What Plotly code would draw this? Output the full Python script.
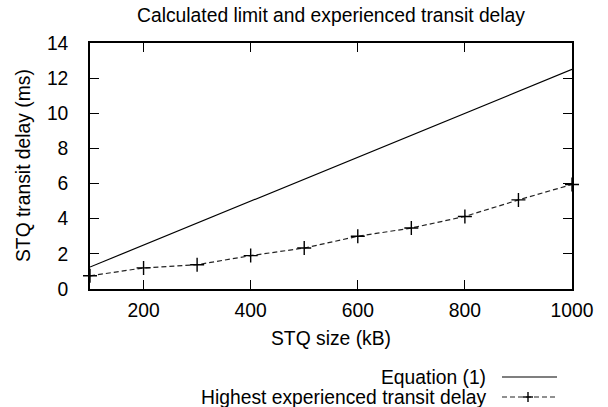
import plotly.graph_objects as go

# Data
stq_size_eq = [100, 1000]
eq_delay = [1.25, 12.5]
stq_size = [100, 200, 300, 400, 500, 600, 700, 800, 900, 1000]
exp_delay = [0.75, 1.2, 1.38, 1.9, 2.33, 3.0, 3.47, 4.13, 5.07, 5.95]

title_text = "Calculated limit and experienced transit delay"
x_title = "STQ size (kB)"
y_title = "STQ transit delay (ms)"
legend_names = ["Equation (1)", "Highest experienced transit delay"]

FONT = "Liberation Sans, Arial, sans-serif"
FS = 19.3
W, H = 608, 407
L, R, T, B = 90, 36, 43, 118
PW, PH = W - L - R, H - T - B


def px_x(px):
    return (px - L) / PW


def px_y(py):
    return (H - B - py) / PH


fig = go.Figure()
fig.add_trace(go.Scatter(
    x=stq_size_eq, y=eq_delay, mode="lines", name=legend_names[0],
    line=dict(color="black", width=1.2), showlegend=False,
))
fig.add_trace(go.Scatter(
    x=stq_size, y=exp_delay, mode="lines+markers", name=legend_names[1],
    line=dict(color="#222", width=1.2, dash="5px,3px"),
    marker=dict(symbol="cross-thin", size=10, line=dict(color="black", width=1.4)),
    cliponaxis=False, showlegend=False,
))

axis_common = dict(
    showline=True, linecolor="black", linewidth=1.6, mirror="ticks",
    ticks="inside", ticklen=9, tickwidth=1.4, tickcolor="black",
    showgrid=False, zeroline=False,
    tickfont=dict(family=FONT, size=FS, color="black"),
)

fig.update_xaxes(range=[100, 1000], tick0=0, dtick=200, ticklabelstandoff=3, **axis_common)
fig.update_yaxes(range=[0, 14], tick0=0, dtick=2, ticklabelstandoff=16, **axis_common)

annotations = [
    dict(text=title_text, xref="paper", yref="paper", x=0.5, y=px_y(15),
         xanchor="center", yanchor="middle", showarrow=False,
         font=dict(family=FONT, size=FS, color="black")),
    dict(text=x_title, xref="paper", yref="paper", x=0.5, y=px_y(338),
         xanchor="center", yanchor="middle", showarrow=False,
         font=dict(family=FONT, size=FS, color="black")),
    dict(text=y_title, xref="paper", yref="paper", x=px_x(23), y=0.5,
         xanchor="center", yanchor="middle", textangle=-90, showarrow=False,
         font=dict(family=FONT, size=FS, color="black")),
    dict(text=legend_names[0], xref="paper", yref="paper", x=px_x(488), y=px_y(377),
         xanchor="right", yanchor="middle", showarrow=False,
         font=dict(family=FONT, size=FS, color="black")),
    dict(text=legend_names[1], xref="paper", yref="paper", x=px_x(488), y=px_y(397),
         xanchor="right", yanchor="middle", showarrow=False,
         font=dict(family=FONT, size=FS, color="black")),
]

shapes = [
    dict(type="line", xref="paper", yref="paper", x0=px_x(502), x1=px_x(557),
         y0=px_y(377), y1=px_y(377), line=dict(color="black", width=1.2)),
    dict(type="line", xref="paper", yref="paper", x0=px_x(502), x1=px_x(557),
         y0=px_y(397), y1=px_y(397), line=dict(color="#222", width=1.2, dash="5px,3px")),
    dict(type="line", xref="paper", yref="paper", x0=px_x(523), x1=px_x(533),
         y0=px_y(397), y1=px_y(397), line=dict(color="black", width=1.4)),
    dict(type="line", xref="paper", yref="paper", x0=px_x(528), x1=px_x(528),
         y0=px_y(392), y1=px_y(402), line=dict(color="black", width=1.4)),
]

fig.update_layout(
    width=W, height=H,
    margin=dict(l=L, r=R, t=T, b=B),
    paper_bgcolor="white", plot_bgcolor="white",
    font=dict(family=FONT, size=FS, color="black"),
    annotations=annotations, shapes=shapes,
    showlegend=False,
)

fig.write_html(
    "out.html",
    config={"displayModeBar": False},
    post_script="document.body.style.margin='0';document.body.style.overflow='hidden';",
)
